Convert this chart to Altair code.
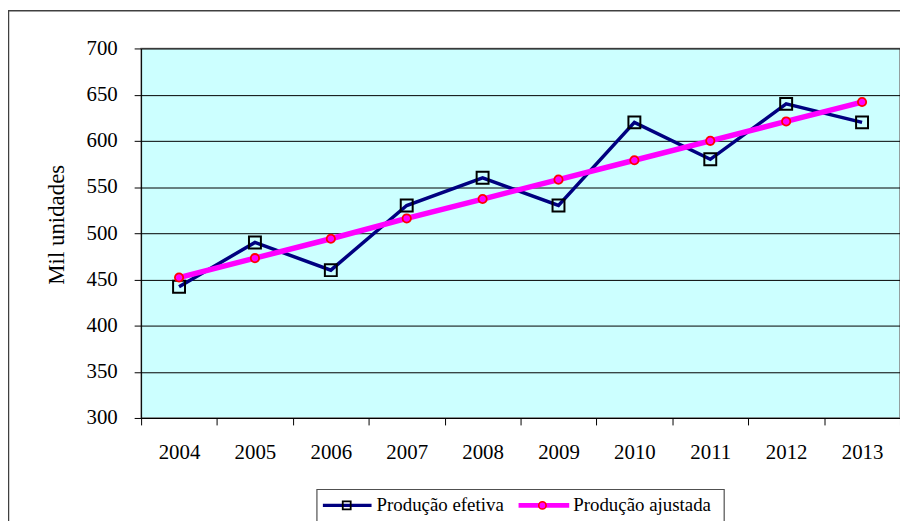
import altair as alt
import pandas as pd

anos = ["2004", "2005", "2006", "2007", "2008", "2009", "2010", "2011", "2012", "2013"]
efetiva = [442, 490, 460, 530, 560, 530, 620, 580, 640, 620]
ajustada = [452, 473, 494, 516, 537, 558, 579, 600, 621, 642]
series_names = ["Produção efetiva", "Produção ajustada"]
y_ticks = [300, 350, 400, 450, 500, 550, 600, 650, 700]

FONT = "Liberation Serif"
NAVY = "#000080"
MAGENTA = "#FF00FF"
RED = "#FF0000"

df_e = pd.DataFrame({"ano": anos, "valor": efetiva})
df_a = pd.DataFrame({"ano": anos, "valor": ajustada})
one = pd.DataFrame({"k": [0]})

x_enc = alt.X(
    "ano:O",
    bandPosition=0.5,
    scale=alt.Scale(type="band", paddingInner=0, paddingOuter=0, domain=anos),
    axis=alt.Axis(
        title=None, tickBand="extent", labelAngle=0, grid=False,
        domainColor="black", tickColor="black", tickSize=7, labelPadding=17,
        labelFont=FONT, labelFontSize=21, labelColor="black",
    ),
)
y_enc = alt.Y(
    "valor:Q",
    scale=alt.Scale(domain=[300, 700], nice=False, zero=False),
    axis=alt.Axis(
        values=y_ticks, title="Mil unidades", grid=True, gridColor="black",
        gridWidth=1, gridOpacity=1, domainColor="black", tickColor="black",
        tickSize=7, labelPadding=17, labelFont=FONT, labelFontSize=21,
        labelColor="black", titleFont=FONT, titleFontSize=23,
        titleFontWeight="normal", titleColor="black", titleX=-85, titleY=177,
        titleAngle=-90, titleAlign="center", titleBaseline="middle",
    ),
)

line_e = alt.Chart(df_e).mark_line(color=NAVY, strokeWidth=3.5).encode(x=x_enc, y=y_enc)
pts_e = alt.Chart(df_e).mark_point(
    shape="square", size=144, filled=False, stroke="black", strokeWidth=2, opacity=1
).encode(x=x_enc, y=y_enc)
line_a = alt.Chart(df_a).mark_line(color=MAGENTA, strokeWidth=5.5).encode(x=x_enc, y=y_enc)
pts_a = alt.Chart(df_a).mark_point(
    shape="circle", size=70, filled=True, fill=MAGENTA, stroke=RED, strokeWidth=1.8, opacity=1
).encode(x=x_enc, y=y_enc)

# outer chart frame
frame = alt.Chart(one).mark_rect(
    fillOpacity=0, stroke="#404040", strokeWidth=1.5, clip=False
).encode(x=alt.value(-133.5), x2=alt.value(800), y=alt.value(-38), y2=alt.value(600))

# legend
LY = 460
leg_box = alt.Chart(one).mark_rect(
    fill="white", stroke="#505050", strokeWidth=1.2
).encode(x=alt.value(177), x2=alt.value(587), y=alt.value(444), y2=alt.value(600))
leg_l1 = alt.Chart(one).mark_rule(color=NAVY, strokeWidth=3.5).encode(
    x=alt.value(183), x2=alt.value(232), y=alt.value(LY))
leg_p1 = alt.Chart(one).mark_point(
    shape="square", size=64, filled=False, stroke="black", strokeWidth=1.8, opacity=1
).encode(x=alt.value(207), y=alt.value(LY))
leg_t1 = alt.Chart(one).mark_text(
    align="left", baseline="middle", font=FONT, fontSize=19, color="black"
).encode(x=alt.value(237), y=alt.value(LY), text=alt.value(series_names[0]))
leg_l2 = alt.Chart(one).mark_rule(color=MAGENTA, strokeWidth=5).encode(
    x=alt.value(380), x2=alt.value(431), y=alt.value(LY))
leg_p2 = alt.Chart(one).mark_point(
    shape="circle", size=55, filled=True, fill=MAGENTA, stroke=RED, strokeWidth=1.6, opacity=1
).encode(x=alt.value(404), y=alt.value(LY))
leg_t2 = alt.Chart(one).mark_text(
    align="left", baseline="middle", font=FONT, fontSize=19, color="black"
).encode(x=alt.value(435), y=alt.value(LY), text=alt.value(series_names[1]))

chart = alt.layer(
    frame, line_e, pts_e, line_a, pts_a,
    leg_box, leg_l1, leg_p1, leg_t1, leg_l2, leg_p2, leg_t2,
).properties(
    width=764, height=372,
    padding={"left": 134, "top": 39, "right": 0, "bottom": 102},
    autosize=alt.AutoSizeParams(type="none"),
    background="white",
).configure_view(
    fill="#CCFFFF", stroke="#808080", strokeWidth=1.5
)

chart.save("out.html", embed_options={"renderer": "svg", "actions": False})
